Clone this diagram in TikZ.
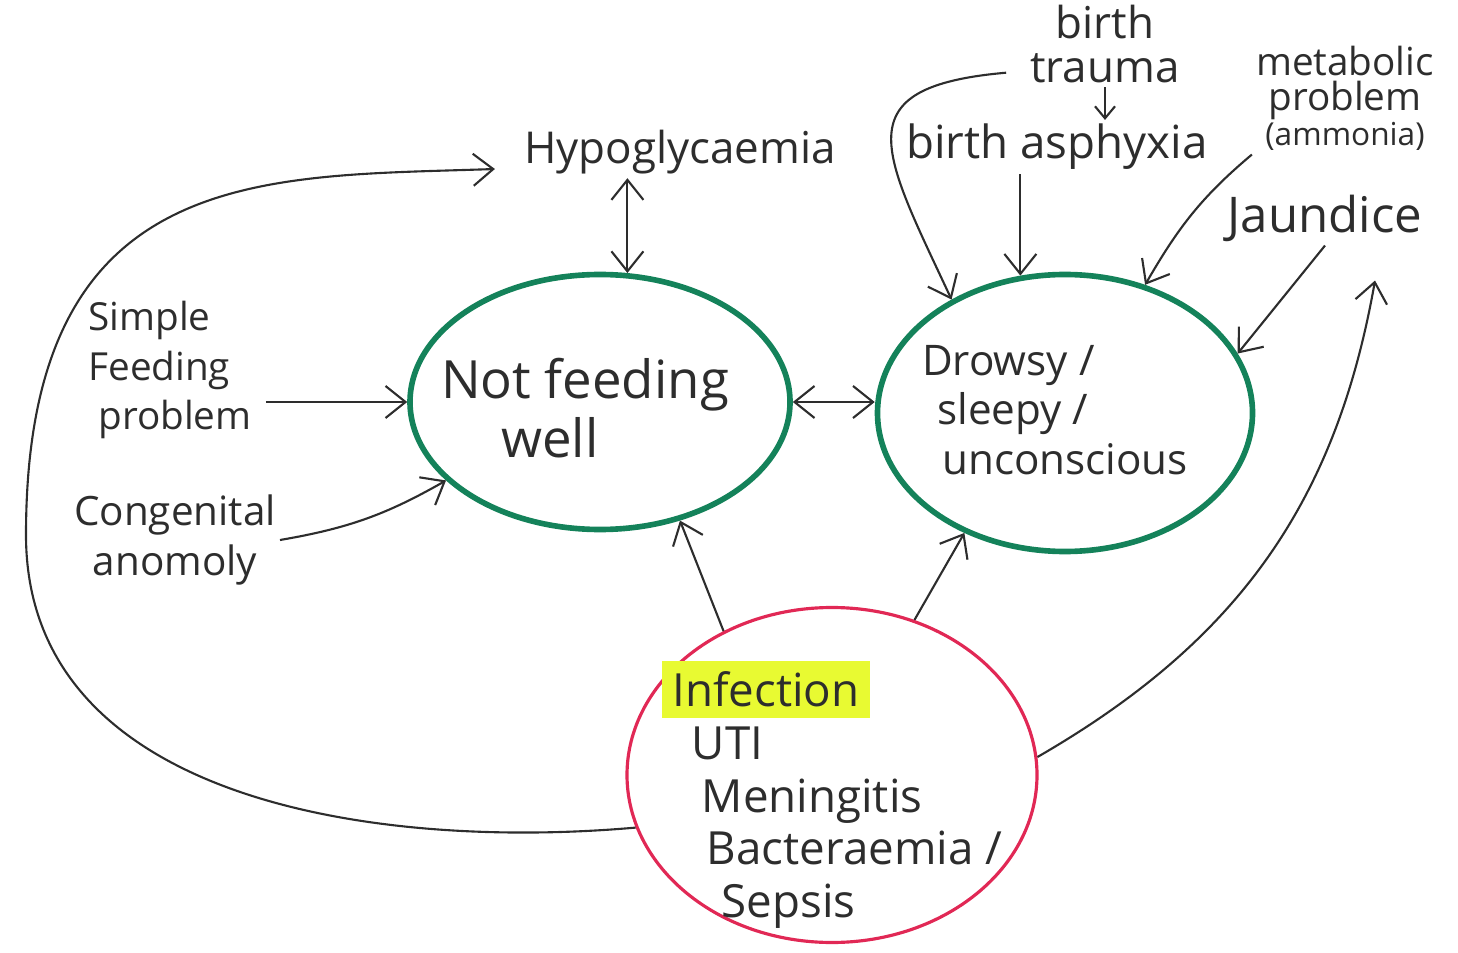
\documentclass[tikz,border=0pt]{standalone}
\usepackage{fontspec}
\setmainfont{Open Sans}
\usepackage{xcolor}
\usepackage{tikz}
\usetikzlibrary{shapes.geometric, arrows.meta, positioning}
\definecolor{inkGrey}{RGB}{45, 45, 45}
\definecolor{ringGreen}{RGB}{20, 130, 90}
\definecolor{ringRed}{RGB}{225, 40, 85}
\definecolor{markerYellow}{RGB}{232, 250, 50}

\begin{document}
\begin{tikzpicture}[
  ring/.style={ellipse, draw=ringGreen, line width=1.6pt, inner sep=0pt},
  txt/.style={text=inkGrey, align=left, inner sep=1pt,
    font=\fontsize{12}{14}\selectfont},
  arr/.style={-{Straight Barb[length=2mm, width=3.2mm]}, line width=0.6pt,
    draw=inkGrey},
  dbl/.style={{Straight Barb[length=2mm, width=3.2mm]}-{Straight Barb[length=2mm, width=3.2mm]},
    line width=0.6pt, draw=inkGrey},
]
\useasboundingbox (0,0) rectangle (14.58,-9.53);
\node[txt, font=\fontsize{12.5}{15}\selectfont] (hypo) at (6.80,-1.52) {Hypoglycaemia};
\node[txt, align=center, font=\fontsize{12.5}{12.5}\selectfont] (trauma) at (11.05,-0.44)
  {birth\\trauma};
\node[txt, font=\fontsize{13}{15}\selectfont] (asphyx) at (10.57,-1.47) {birth asphyxia};
\node[txt, align=center, font=\fontsize{11}{10}\selectfont] (metab) at (13.45,-0.98)
  {metabolic\\problem\\{\fontsize{9}{10}\selectfont (ammonia)}};
\node[txt, font=\fontsize{14}{16}\selectfont] (jaund) at (13.25,-2.18) {Jaundice};
\node[txt, font=\fontsize{11}{14}\selectfont] (simple) at (1.70,-3.70)
  {Simple\\Feeding\\\hspace{1mm}problem};
\node[txt, align=center, font=\fontsize{11.5}{14}\selectfont] (congen) at (1.75,-5.40)
  {Congenital\\anomoly};

\node[ring, minimum width=3.8cm,  minimum height=2.55cm] (nfw)    at (6.00,-4.02) {};
\node[ring, minimum width=3.75cm, minimum height=2.77cm] (drowsy) at (10.65,-4.13) {};
\node[ring, draw=ringRed, line width=0.9pt,
      minimum width=4.1cm, minimum height=3.35cm]          (infect) at (8.32,-7.75) {};
\node[txt, font=\fontsize{15}{17}\selectfont] (nfwText) at (5.85,-4.08)
  {Not feeding\\\hspace{6mm}well};
\node[txt] (drowsyText) at (10.55,-4.10)
  {Drowsy /\\\hspace{1.5mm}sleepy /\\\hspace{2mm}unconscious};
\node[txt, font=\fontsize{13}{15}\selectfont] (infectText) at (8.32,-7.95)
  {\setlength{\fboxsep}{3pt}\colorbox{markerYellow}{Infection}\\
   \hspace{3mm}UTI\\\hspace{4mm}Meningitis\\\hspace{4.5mm}Bacteraemia /\\\hspace{6mm}Sepsis};

\draw[dbl] (nfw.78 |- hypo.south) -- (nfw.78);
\draw[arr, shorten <=1mm] (simple.east |- nfw.west) -- (nfw.west);
\draw[arr] (congen.east) to[bend right=10] (nfw.207);
\draw[dbl] (nfw.east) -- (nfw.east -| drowsy.west);
\draw[arr] (infect.127) -- (nfw.304);
\draw[arr] (infect.62) -- (drowsy.230);
\draw[arr] (infect.195) to[out=185, in=-90] (0.26,-5.35)
  to[out=90, in=182, out looseness=1.6, in looseness=1.0]
  ([xshift=-2.5mm, yshift=-1.7mm]hypo.west);
\draw[arr] ([xshift=-2mm]trauma.200) to[out=185, in=115, looseness=1.8] (drowsy.135);
\draw[arr, -{Straight Barb[length=1.2mm, width=2mm]}]
  (trauma.south) -- (trauma.south |- asphyx.north);
\draw[arr] (drowsy.108 |- asphyx.south) -- (drowsy.108);
\draw[arr] (metab.south west) to[out=220, in=60] (drowsy.58);
\draw[arr] (jaund.south) -- (drowsy.19);
\draw[arr] (infect.5) to[out=30, in=-100] ([xshift=5mm, yshift=-3.5mm]jaund.south);
\end{tikzpicture}
\end{document}
